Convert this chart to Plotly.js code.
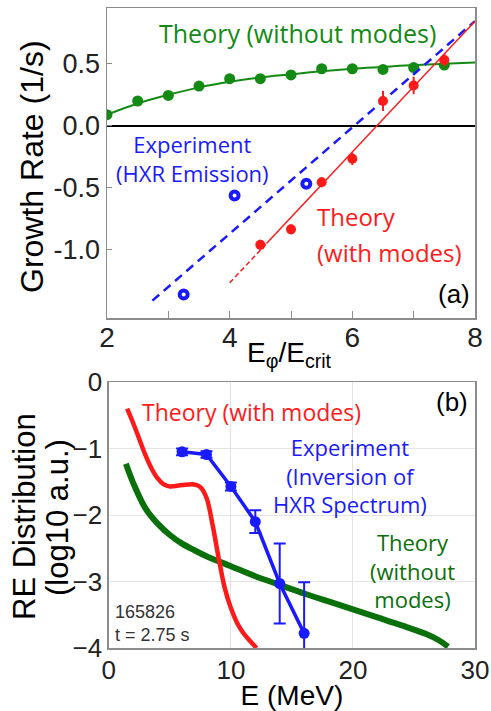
<!DOCTYPE html>
<html><head><meta charset="utf-8">
<script src="https://cdn.plot.ly/plotly-3.0.1.min.js"></script>
<style>html,body{margin:0;padding:0;background:#fff}#chart{width:491px;height:711px}</style>
</head><body><div id="chart"></div>
<script>
// Panel (a): growth rate vs E_phi/E_crit
const greenPtsX = [2, 2.5, 3, 3.5, 4, 4.5, 5, 5.5, 6, 6.5, 7, 7.5];
const greenPtsY = [0.09, 0.2, 0.245, 0.32, 0.38, 0.38, 0.41, 0.46, 0.46, 0.455, 0.47, 0.49];
const greenFitX = [2, 2.5, 3, 3.5, 4, 4.5, 5, 5.5, 6, 6.5, 7, 7.5, 8];
const greenFitY = [0.09, 0.18, 0.25, 0.31, 0.355, 0.39, 0.415, 0.44, 0.46, 0.475, 0.49, 0.5, 0.51];
const redPtsX = [4.5, 5, 5.5, 6, 6.5, 7, 7.5];
const redPtsY = [-0.96, -0.835, -0.455, -0.266, 0.2, 0.325, 0.53];
const redPtsErr = [0.04, 0.04, 0.04, 0.05, 0.08, 0.07, 0.05];
const redFitDashX = [4.0, 4.6];
const redFitDashY = [-1.266, -0.95];
const redFitX = [4.6, 8.0];
const redFitY = [-0.95, 0.844];
const blueFitX = [2.74, 8.0];
const blueFitY = [-1.41, 0.844];
const bluePtsX = [3.25, 4.08, 5.25];
const bluePtsY = [-1.36, -0.562, -0.468];

// Panel (b): RE distribution vs energy
const redCurveX = [1.5, 2.0, 2.5, 3.0, 3.5, 4.0, 4.5, 5.0, 6.0, 7.0, 7.5, 8.0, 8.5, 9.0, 9.5, 10.0, 10.5, 11.0, 11.5, 12.1];
const redCurveY = [-0.4, -0.62, -0.86, -1.1, -1.3, -1.45, -1.54, -1.57, -1.55, -1.54, -1.58, -1.74, -2.15, -2.65, -3.1, -3.4, -3.62, -3.77, -3.88, -4.0];
const greenCurveX = [1.4, 2, 3, 4, 5, 6, 7, 8, 10, 12, 14, 16, 18, 20, 22, 24, 26, 27, 27.8];
const greenCurveY = [-1.23, -1.52, -1.9, -2.13, -2.3, -2.43, -2.53, -2.62, -2.77, -2.92, -3.05, -3.18, -3.3, -3.42, -3.54, -3.66, -3.79, -3.88, -3.98];
const expX = [6, 8, 10, 12, 14, 16];
const expY = [-1.05, -1.09, -1.57, -2.1, -3.03, -3.78];
const expErr = [0.05, 0.05, 0.06, 0.17, 0.6, 0.77];

const GREEN = '#138a13', DGREEN = '#0a700a', RED = '#ff1a1a', BLUE = '#1a1aff';
const LBL = 'Open Sans, sans-serif';
const AX = 'Liberation Sans, Arial, sans-serif';
const TICKC = '#222';

const traces = [
  {x: greenFitX, y: greenFitY, mode: 'lines', line: {color: GREEN, width: 2, shape: 'spline'}, xaxis: 'x', yaxis: 'y', hoverinfo: 'skip'},
  {x: greenPtsX, y: greenPtsY, mode: 'markers', marker: {color: GREEN, size: 11},
   error_y: {type: 'constant', value: 0.03, color: GREEN, thickness: 6, width: 0}, xaxis: 'x', yaxis: 'y'},
  {x: blueFitX, y: blueFitY, mode: 'lines', line: {color: BLUE, width: 2.5, dash: '9px,6px'}, xaxis: 'x', yaxis: 'y'},
  {x: redFitDashX, y: redFitDashY, mode: 'lines', line: {color: RED, width: 1.5, dash: '5px,3px'}, xaxis: 'x', yaxis: 'y'},
  {x: redFitX, y: redFitY, mode: 'lines', line: {color: RED, width: 1.5}, xaxis: 'x', yaxis: 'y'},
  {x: redPtsX, y: redPtsY, mode: 'markers', marker: {color: RED, size: 10},
   error_y: {type: 'data', array: redPtsErr, color: RED, thickness: 2, width: 0}, xaxis: 'x', yaxis: 'y'},
  {x: bluePtsX, y: bluePtsY, mode: 'markers', marker: {symbol: 'circle-open', color: BLUE, size: 8, line: {color: BLUE, width: 4}}, xaxis: 'x', yaxis: 'y'},

  {x: greenCurveX, y: greenCurveY, mode: 'lines', line: {color: DGREEN, width: 6, shape: 'spline', smoothing: 1}, xaxis: 'x2', yaxis: 'y2'},
  {x: redCurveX, y: redCurveY, mode: 'lines', line: {color: RED, width: 4.5, shape: 'spline'}, xaxis: 'x2', yaxis: 'y2'},
  {x: expX, y: expY, mode: 'lines+markers', line: {color: BLUE, width: 3.5}, marker: {color: BLUE, size: 11},
   error_y: {type: 'data', array: expErr, color: BLUE, thickness: 2, width: 6}, xaxis: 'x2', yaxis: 'y2'}
];

const frame = {showline: true, mirror: true, linecolor: '#8c8c8c', linewidth: 1.5};
const layout = {
  width: 491, height: 711,
  margin: {l: 107, r: 16, t: 8, b: 63},
  paper_bgcolor: '#fff', plot_bgcolor: '#fff',
  showlegend: false,
  font: {family: AX, color: '#000'},
  xaxis: Object.assign({}, frame, {
    domain: [0, 1], anchor: 'y', range: [2, 8], dtick: 2, tick0: 2,
    ticks: 'inside', ticklen: 7, tickcolor: '#8c8c8c', showgrid: false, zeroline: false,
    minor: {dtick: 1, ticks: 'inside', ticklen: 7, tickcolor: '#8c8c8c', showgrid: false},
    ticklabelstandoff: -6,
    tickfont: {size: 28, family: AX, color: TICKC}
  }),
  yaxis: Object.assign({}, frame, {
    domain: [0.5156, 1], anchor: 'x', range: [-1.55, 0.95],
    tickvals: [-1, -0.5, 0, 0.5], ticktext: ['-1.0', '-0.5', '0.0', '0.5'],
    ticks: 'inside', ticklen: 5, tickcolor: '#8c8c8c',
    showgrid: false, zeroline: true, zerolinecolor: '#000', zerolinewidth: 2.5,
    tickfont: {size: 27, family: AX, color: TICKC}
  }),
  xaxis2: Object.assign({}, frame, {
    domain: [0.005, 1], anchor: 'y2', range: [0, 30], dtick: 10, tick0: 0,
    ticks: '', showgrid: true, gridcolor: '#e4e4e4', gridwidth: 1, zeroline: false,
    ticklabelstandoff: -2,
    tickfont: {size: 26, family: AX, color: TICKC},
    title: {text: 'E (MeV)', font: {size: 28, family: AX}, standoff: 0}
  }),
  yaxis2: Object.assign({}, frame, {
    domain: [0, 0.4156], anchor: 'x2', range: [-4, 0], dtick: 1, tick0: 0,
    ticks: '', showgrid: true, gridcolor: '#e4e4e4', gridwidth: 1, zeroline: false,
    tickfont: {size: 26, family: AX, color: TICKC}
  }),
  annotations: [
    // axis titles placed to match the reference
    {xref: 'paper', yref: 'paper', x: 0.497, y: 0.459, text: 'E<sub>φ</sub>/E<sub>crit</sub>', showarrow: false, xanchor: 'center', yanchor: 'middle', font: {family: AX, size: 28, color: '#000'}},
    {xref: 'paper', yref: 'paper', x: -0.2038, y: 0.7516, text: 'Growth Rate (1/s)', textangle: -90, showarrow: false, xanchor: 'center', yanchor: 'middle', font: {family: AX, size: 32, color: '#000'}},
    {xref: 'paper', yref: 'paper', x: -0.2228, y: 0.2047, text: 'RE Distribution', textangle: -90, showarrow: false, xanchor: 'center', yanchor: 'middle', font: {family: AX, size: 31, color: '#000'}},
    {xref: 'paper', yref: 'paper', x: -0.1332, y: 0.2047, text: '(log10 a.u.)', textangle: -90, showarrow: false, xanchor: 'center', yanchor: 'middle', font: {family: AX, size: 31, color: '#000'}},

    {xref: 'x', yref: 'y', x: 5.1, y: 0.75, text: 'Theory (without modes)', showarrow: false, font: {family: LBL, size: 25, color: GREEN}},
    {xref: 'x', yref: 'y', x: 3.4, y: -0.265, text: 'Experiment<br>(HXR Emission)', showarrow: false, font: {family: LBL, size: 22, color: BLUE}},
    {xref: 'x', yref: 'y', x: 5.39, y: -0.73, text: 'Theory', showarrow: false, xanchor: 'left', font: {family: LBL, size: 24, color: RED}},
    {xref: 'x', yref: 'y', x: 5.39, y: -1.02, text: '(with modes)', showarrow: false, xanchor: 'left', font: {family: LBL, size: 24, color: RED}},
    {xref: 'x', yref: 'y', x: 7.95, y: -1.36, text: '(a)', showarrow: false, xanchor: 'right', font: {family: AX, size: 26, color: '#000'}},

    {xref: 'x2', yref: 'y2', x: 11.7, y: -0.45, text: 'Theory (with modes)', showarrow: false, font: {family: LBL, size: 23, color: RED}},
    {xref: 'x2', yref: 'y2', x: 19.75, y: -1.4, text: 'Experiment<br>(Inversion of<br>HXR Spectrum)', showarrow: false, font: {family: LBL, size: 22, color: BLUE}},
    {xref: 'x2', yref: 'y2', x: 24.9, y: -2.83, text: 'Theory<br>(without<br>modes)', showarrow: false, font: {family: LBL, size: 22, color: DGREEN}},
    {xref: 'x2', yref: 'y2', x: 29.6, y: -0.3, text: '(b)', showarrow: false, xanchor: 'right', font: {family: AX, size: 26, color: '#000'}},
    {xref: 'x2', yref: 'y2', x: 0.3, y: -3.46, text: '165826', showarrow: false, xanchor: 'left', font: {family: AX, size: 18, color: '#333'}},
    {xref: 'x2', yref: 'y2', x: 0.3, y: -3.8, text: 't = 2.75 s', showarrow: false, xanchor: 'left', font: {family: AX, size: 18, color: '#333'}}
  ]
};
Plotly.newPlot('chart', traces, layout, {displayModeBar: false, staticPlot: true});
</script></body></html>
